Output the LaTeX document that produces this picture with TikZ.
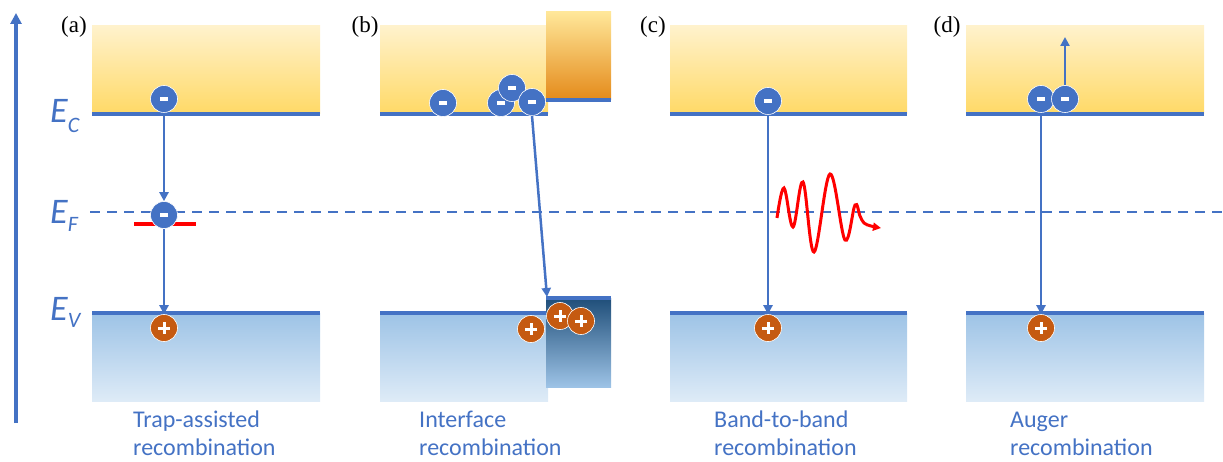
\documentclass[tikz,border=0pt]{standalone}
\usepackage{fontspec}
\newfontfamily\calib{Carlito}
\newfontfamily\tms{Liberation Serif}
\usetikzlibrary{arrows.meta}
\definecolor{lblue}{HTML}{4472C4}
\definecolor{holec}{HTML}{C55A11}
\definecolor{ytop}{HTML}{FFF2CC}
\definecolor{ybot}{HTML}{FFD966}
\definecolor{btop}{HTML}{9DC3E6}
\definecolor{bbot}{HTML}{DEEBF7}
\definecolor{otop}{HTML}{FFE799}
\definecolor{obot}{HTML}{E48A1A}
\definecolor{dbtop}{HTML}{1F4E79}
\definecolor{dbmid}{HTML}{2E75B6}
\definecolor{dbbot}{HTML}{9DC3E6}
\begin{document}
\begin{tikzpicture}[x=1pt,y=-1pt,
  band/.style={lblue, line width=3.2pt},
  arr/.style={lblue, line width=2.5pt, -{Triangle[width=9pt,length=9pt]}},
  elec/.style={circle, fill=lblue, draw=white, line width=0.6pt, minimum size=27pt, inner sep=0pt,
    path picture={\fill[white] ([shift={(-4pt,-1.8pt)}]path picture bounding box.center) rectangle ([shift={(4pt,1.8pt)}]path picture bounding box.center);}},
  hole/.style={circle, fill=holec, draw=white, line width=0.6pt, minimum size=27pt, inner sep=0pt,
    path picture={\fill[white] ([shift={(-6pt,-1.5pt)}]path picture bounding box.center) rectangle ([shift={(6pt,1.5pt)}]path picture bounding box.center);
                  \fill[white] ([shift={(-1.5pt,-6pt)}]path picture bounding box.center) rectangle ([shift={(1.5pt,6pt)}]path picture bounding box.center);}},
  plab/.style={font=\tms\fontsize{23}{23}\selectfont, inner sep=0pt},
  captxt/.style={font=\calib\fontsize{24}{28}\selectfont, text=lblue, align=left, anchor=base west, inner sep=0pt},
  elab/.style={font=\calib\itshape, text=lblue, anchor=base west, inner sep=0pt}
]
\useasboundingbox (0,0) rectangle (1223,462);

% energy axis
\coordinate (axb) at (16,423);
\coordinate (axt) at (16,13);
\draw[lblue, line width=3.2pt, -{Triangle[width=11pt,length=11pt]}] (axb) -- (axt);

% level labels
\node[elab] (lec) at (50,123) {\fontsize{36}{36}\selectfont E\raisebox{-10pt}{\fontsize{22}{22}\selectfont C}};
\node[elab] (lef) at (50,224) {\fontsize{36}{36}\selectfont E\raisebox{-8pt}{\fontsize{22}{22}\selectfont F}};
\node[elab] (lev) at (50,320) {\fontsize{36}{36}\selectfont E\raisebox{-7pt}{\fontsize{22}{22}\selectfont V}};

% Fermi level
\draw[lblue, line width=2.2pt, dash pattern=on 10pt off 7pt] (90,212) -- (1223,212);

% bands
\foreach \xa/\xb in {92/320, 380/548, 670/907, 966/1204}{
  \shade[top color=ytop, bottom color=ybot] (\xa,26) rectangle (\xb,114);
  \draw[band] (\xa,114) -- (\xb,114);
  \shade[top color=btop, bottom color=bbot] (\xa,313) rectangle (\xb,401);
  \draw[band] (\xa,313) -- (\xb,313);
}
% interface material (b)
\shade[top color=otop, middle color=ybot, bottom color=obot] (546,12) rectangle (611,100);
\draw[band] (546,100) -- (611,100);
\shade[top color=dbtop, middle color=dbmid, bottom color=dbbot] (546,298) rectangle (611,387);
\draw[band] (546,298) -- (611,298);

% panel labels
\node[plab] (pa) at (74,27) {(a)};
\node[plab] (pb) at (365,27) {(b)};
\node[plab] (pc) at (653,27) {(c)};
\node[plab] (pd) at (947,27) {(d)};

% (a) trap-assisted
\draw[red, line width=4.5pt] (134,224) -- (196,224);
\node[elec] (ea1) at (164,99) {};
\node[elec] (ea2) at (164,215) {};
\node[hole] (ha) at (164,328) {};
\draw[arr] (ea1) -- (ea2);
\draw[arr] (ea2) -- (ha.north);

% (b) interface
\node[elec] (eb1) at (443,103) {};
\node[elec] (eb2) at (501,103) {};
\node[elec] (eb3) at (512,88) {};
\node[elec] (eb4) at (532,102) {};
\coordinate (bt) at (547,297);
\draw[arr] (eb4.south) -- (bt);
\node[hole] (hb1) at (531,329) {};
\node[hole] (hb2) at (560,316) {};
\node[hole] (hb3) at (581,321) {};

% (c) band-to-band
\node[elec] (ec) at (768,101) {};
\node[hole] (hc) at (768,328) {};
\draw[arr] (ec) -- (hc.north);
\draw[red, line width=3pt, -{Triangle[width=8pt,length=8pt]}] plot[smooth, tension=0.6] coordinates
  {(777,218) (784,188) (793,227) (803,182) (814,252) (830,174) (845,240) (855,205) (860,216) (864,223) (871,226) (881,228)};

% (d) Auger
\node[elec] (ed1) at (1041,99) {};
\node[elec] (ed2) at (1065,99) {};
\node[hole] (hd) at (1041,328) {};
\coordinate (dt) at (1065,37);
\draw[arr] (ed1) -- (hd.north);
\draw[arr] (ed2) -- (dt);

% captions (base = last line)
\node[captxt] (ca) at (133,455) {Trap-assisted\\recombination};
\node[captxt] (cb) at (419,455) {Interface\\recombination};
\node[captxt] (cc) at (714,455) {Band-to-band\\recombination};
\node[captxt] (cd) at (1010,455) {Auger\\recombination};
\end{tikzpicture}
\end{document}
